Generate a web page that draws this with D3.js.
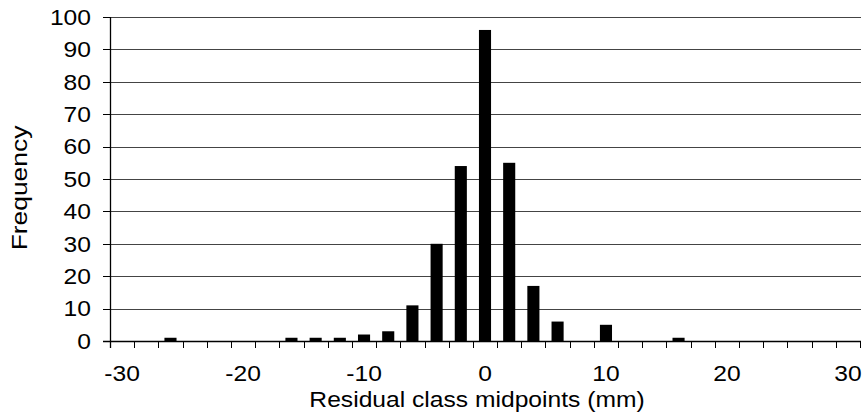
<!DOCTYPE html>
<html><head><meta charset="utf-8">
<script src="https://cdn.jsdelivr.net/npm/d3@7"></script>
<style>body{margin:0;background:#fff}svg{display:block}text{font-family:"Liberation Sans",Arial,sans-serif;fill:#000}</style>
</head><body><svg id="c" width="867" height="413"></svg>
<script>
const categories = d3.range(-30, 31, 2);
const frequencies = [0,0,1,0,0,0,0,1,1,1,2,3,11,30,54,96,55,17,6,0,5,0,0,1,0,0,0,0,0,0,0];
const xTickLabels = [-30,-20,-10,0,10,20,30];
const yTickValues = [0,10,20,30,40,50,60,70,80,90,100];
const xTitle = "Residual class midpoints (mm)";
const yTitle = "Frequency";

const svg = d3.select("#c");
const L = 110, R = 860, T = 17, B = 341;
const FS = 22, SX = 1.12;
const xb = d3.scaleBand().domain(categories).range([L, R]).padding(0);
const xbar = d3.scaleBand().domain(categories).range([L, R]).paddingInner(0.5).paddingOuter(0.25);
const y = d3.scaleLinear().domain([0, 100]).range([B, T]);

// gridlines
svg.append("g").selectAll("line").data(yTickValues.filter(d => d > 0)).join("line")
  .attr("x1", L).attr("x2", R + 1).attr("y1", d => Math.round(y(d)) + 0.5).attr("y2", d => Math.round(y(d)) + 0.5)
  .attr("stroke", "#444").attr("stroke-width", 1.2);

// bars
svg.append("g").selectAll("rect").data(categories.map((c, i) => ({c, v: frequencies[i]})).filter(d => d.v > 0)).join("rect")
  .attr("x", d => xbar(d.c)).attr("width", xbar.bandwidth())
  .attr("y", d => y(d.v)).attr("height", d => y(0) - y(d.v)).attr("fill", "#000");

// y axis line + ticks
svg.append("line").attr("x1", L + 0.5).attr("x2", L + 0.5).attr("y1", T).attr("y2", B + 7).attr("stroke", "#000").attr("stroke-width", 1.3);
svg.append("g").selectAll("line").data(yTickValues).join("line")
  .attr("x1", L - 7).attr("x2", L).attr("y1", d => Math.round(y(d)) + 0.5).attr("y2", d => Math.round(y(d)) + 0.5)
  .attr("stroke", "#000");
svg.append("g").selectAll("text").data(yTickValues).join("text")
  .attr("transform", d => `translate(91,${y(d)}) scale(${SX},1)`)
  .attr("text-anchor", "end").attr("dy", "0.35em").attr("font-size", FS).text(d => d);

// x axis baseline
svg.append("line").attr("x1", L - 7).attr("x2", R + 1).attr("y1", B + 0.5).attr("y2", B + 0.5).attr("stroke", "#000").attr("stroke-width", 1.3);
// x tick marks at category boundaries
const bounds = categories.map(c => xb(c)).concat([R]);
svg.append("g").selectAll("line").data(bounds).join("line")
  .attr("x1", d => Math.round(d) + 0.5).attr("x2", d => Math.round(d) + 0.5)
  .attr("y1", B).attr("y2", B + 7).attr("stroke", "#000").attr("stroke-width", 1);
// x labels
svg.append("g").selectAll("text").data(xTickLabels).join("text")
  .attr("transform", d => `translate(${xb(d) + xb.bandwidth() / 2},${B + 40}) scale(${SX},1)`)
  .attr("text-anchor", "middle").attr("font-size", FS).text(d => d);

// titles
svg.append("text").attr("transform", `translate(477,407) scale(${SX},1)`).attr("text-anchor", "middle").attr("font-size", FS).text(xTitle);
svg.append("text").attr("transform", "translate(27,188) rotate(-90) scale(1.2,1)").attr("text-anchor", "middle").attr("font-size", FS).text(yTitle);
</script></body></html>
